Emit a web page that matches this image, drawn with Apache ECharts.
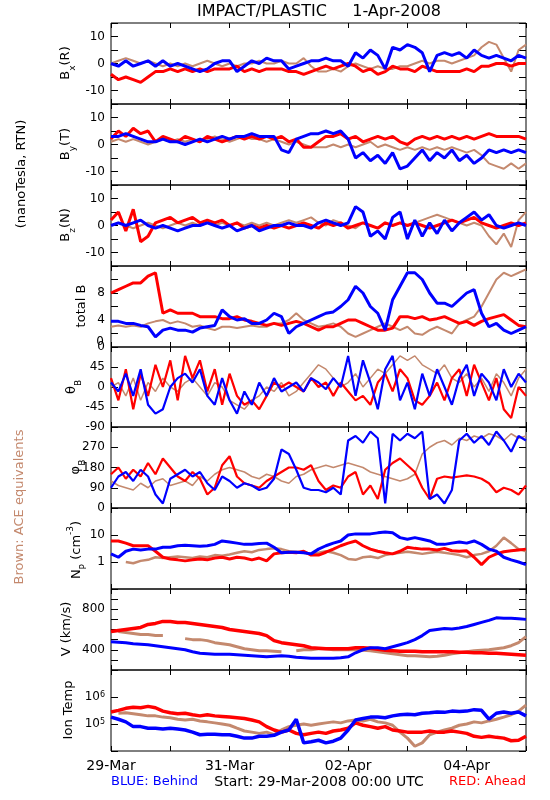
<!DOCTYPE html>
<html><head><meta charset="utf-8">
<script src="https://cdn.jsdelivr.net/npm/echarts@6/dist/echarts.min.js"></script>
<style>html,body{margin:0;padding:0;background:#fff}#c{width:550px;height:800px}</style>
</head><body><div id="c"></div>
<script>
// ---- time grid (hours after 29-Mar-2008 00:00 UTC) ----
const TIMES = [0,3,6,9,12,15,18,21,24,27,30,33,36,39,42,45,48,51,54,57,60,63,66,69,72,75,78,81,84,87,90,93,96,99,102,105,108,111,114,117,120,123,126,129,132,135,138,141,144,147,150,153,156,159,162,165,168];
const DATE_LABELS = {0:'29-Mar',48:'31-Mar',96:'02-Apr',144:'04-Apr'};

// ---- Bx (R) ----
const bxBlue = [0,-1,1,-1,0,1,-1,1,-1,0, -1,-2,-3,-2,0,1,1,-3,-1,1, 0,2,1,1,-2,-1,0,1,1,2, 1,1,-1,4,2,5,3,-2,6,5, 7,6,4,-3,3,4,3,4,2,5, 3,2,3,2,1,3,2];
const bxRed  = [-4,-6,-5,-6,-7,-5,-3,-3,-2,-3, -2,-3,-2,-3,-2,-2,-2,-1,-3,-2, -3,-2,-2,-2,-3,-3,-4,-3,-2,-1, -2,-1,0,-1,-3,-2,-4,-3,-1,-2, -2,-3,-1,-2,-3,-3,-3,-3,-2,-3, -1,-1,0,0,-1,0,0];
const bxAce  = [0,1,2,1,0,1,0,-1,0,-1, 0,-1,0,1,0,-1,0,-1,0,0, 1,0,0,1,0,0,2,-1,-3,-3, -2,-3,-1,0,-1,-2,-1,-2,-2,-1, -1,0,1,0,1,1,0,1,2,3, 6,8,7,2,-3,5,7];
// ---- By (T) ----
const byBlue = [3,3,4,3,2,1,1,2,1,1, 0,1,2,1,2,3,2,3,3,4, 3,3,3,-2,-3,2,3,4,4,5, 4,5,2,-5,-3,-6,-4,-7,-3,-9, -8,-5,-2,-6,-3,-5,-2,-6,-4,-7, -5,-2,-3,-2,-3,-2,-3];
const byRed  = [2,5,3,6,4,5,1,3,2,1, 3,2,1,3,2,1,2,3,2,3, 2,3,2,3,1,2,-1,-1,1,3, 3,4,2,3,1,2,3,2,3,1, 0,2,3,2,3,2,3,2,3,2, 3,4,3,3,3,3,2];
const byAce  = [1,2,1,2,1,0,1,2,1,2, 1,2,1,2,3,2,1,2,3,2, 2,1,2,1,0,1,0,-1,-1,-1, 0,-1,0,-1,0,1,-1,0,-1,-2, -1,-2,-1,-2,-1,-2,-1,-2,-3,-2, -4,-7,-8,-9,-7,-9,-7];
// ---- Bz (N) ----
const bzBlue = [0,1,0,1,2,0,-1,0,-1,-2, -1,0,0,1,0,-1,0,-2,-1,0, -2,-1,0,0,1,0,0,-1,1,2, 1,0,1,7,5,-4,-2,-5,3,5, -5,2,-4,1,-3,2,-2,1,3,5, 2,4,0,-1,0,1,0];
const bzRed  = [2,5,-2,6,-6,-4,1,2,3,1, 2,3,1,2,1,2,0,1,-1,0, -1,0,-1,0,-1,0,1,0,-1,1, 0,1,-1,0,1,0,-1,1,0,1, 0,1,0,-1,0,1,2,1,2,3, 1,0,-1,0,1,0,1];
const bzAce  = [0,1,0,-1,0,1,0,-1,0,1, 0,1,0,1,0,1,0,1,0,1, 0,1,0,1,2,1,2,3,1,0, 2,1,0,-1,1,0,-1,1,0,1, 0,1,2,3,4,3,2,1,0,1, 0,-4,-7,-3,-8,2,5];
// ---- total B ----
const btBlue = [3.8,3.8,3.5,3.5,3.2,3,1.5,2.5,2.8,2.5, 2.5,2.2,2.8,3,3.2,5.5,4.5,4,4.2,3.5, 3.5,4,5,4.5,2,3,3.5,4,4.5,5, 5.2,6,7,9,8,6,5,2.5,7,9, 11,11,10,8,6.5,6.5,6,7,8,8.5, 5,3,3.5,2.5,2,2.5,3];
const btRed  = [8,8.5,9,9.5,9.5,10.5,11,5,5.5,5, 5,5,4.5,4.5,4.5,4.2,4.2,4.5,4,3.8, 3.5,3.2,3.5,3.2,3.5,3.8,3.5,3,2.5,3, 3,3.5,4,4,3.5,3,2.5,2.5,2.8,4.5, 4.5,4.2,4.5,4,4.2,4.5,4,3.5,3.8,3.2, 3.8,4.2,4.5,4.8,4,3.2,3];
const btAce  = [3,3.2,3,3.2,3,3.5,3.8,4,3.5,3.8, 3.5,3,3.2,2.8,2.5,3,3,2.8,3,3.2, 3,3,3.5,3.5,4,5,4,3.5,3,3.2, 3.5,3,2,1.5,2,2.5,3,3.5,3,2.5, 3,2,1.8,2.5,3,2.5,2,3.5,4,4.5, 6,8,10,11,10.5,11,11.5];
// ---- theta_B ----
const thBlue = [10,-10,30,-20,40,-40,-60,-50,0,20, 30,10,40,-20,-40,20,-30,-60,-10,-40, 10,-20,20,-10,0,10,-10,20,10,-5, 20,0,70,-20,60,10,-50,40,70,-30, 10,-50,30,-20,40,0,-40,20,50,-20, 30,10,-30,40,0,30,10];
const thRed  = [20,-30,40,-50,30,-20,50,0,60,-30, 70,20,60,-10,40,-40,30,-20,-40,-30, -50,-20,10,0,10,0,-10,20,0,10, -20,10,-10,-30,-20,-40,10,30,-10,40, 20,-30,-40,-20,10,-30,20,40,-20,50, 10,-30,20,-50,-70,0,-20];
const thAce  = [0,10,-20,20,-30,10,-10,20,0,-10, 10,20,0,-20,10,0,-30,-40,-50,-30, -20,0,-10,10,-20,-10,10,30,50,40, 20,0,10,30,0,20,40,30,50,70, 60,70,50,40,30,50,20,10,30,0, 20,-10,30,10,-20,20,40];
// ---- phi_B ----
const phBlue = [90,140,160,120,170,140,60,20,130,150, 170,140,160,110,80,140,120,90,110,100, 80,90,130,260,240,170,90,80,80,70, 90,60,300,320,290,340,310,20,330,300, 330,310,340,40,60,20,80,300,330,290, 320,280,340,300,250,320,300];
const phRed  = [150,180,130,170,140,200,150,220,180,140, 120,160,130,60,90,190,230,140,110,100, 90,120,140,160,180,180,170,190,120,80, 100,90,140,160,60,100,40,170,200,220, 190,160,90,40,130,140,135,140,145,140, 130,110,70,90,80,60,100];
const phAce  = [120,100,90,80,110,90,120,130,100,110, 120,100,140,120,150,170,180,170,160,140, 130,150,140,120,110,140,150,170,180,190, 180,190,200,190,180,160,150,140,130,120, 130,150,240,270,290,300,280,310,300,320, 310,330,320,300,330,310,320];
// ---- Np (cm^-3) ----
const npBlue = [2,1.5,2.5,3,2.8,3,3,3.5,3.5,4, 4.2,4,3.8,4,4.5,6,5.5,5,4.5,4.5, 4.8,5,3.5,2.2,2.3,2.3,2.2,2,3,4, 5,6,10,11,11,11,12,13,12,8, 7,8,7,6,4.5,4.5,5,5.5,5,6, 4.5,3,2.5,1.5,1.2,1,0.8];
const npRed  = [6,6,5,4,4,4,2.5,1.5,1.3,1.2, 1.1,1.2,1.3,1.2,1.4,1.5,1.3,1.5,1.4,1.2, 1.4,1.1,2,2.2,2.3,2.2,2.5,1.8,1.8,2.3, 3,4,5,6,4,3,2.5,2.2,2,2.5, 3.5,3.2,3,3,2.8,3.2,2.6,2.5,2.6,1.5, 0.8,1.5,2,2.4,2.6,2.8,3];
const npAce  = [null,null,1.0,0.9,1.1,1.2,1.5,1.4,1.5,1.6, 1.5,1.4,1.6,1.5,1.8,1.7,1.9,2.2,2.5,2.3, 2.8,3,3.2,3,2.5,2.4,2.2,2,2.2,2.5, 2.2,1.8,1.3,1.2,1.5,1.6,1.4,1.8,2,2.2, 2.4,2.2,2,2.2,2.4,2.2,2,1.8,1.5,1.8, 2,2.5,4,8,5,3,2.5];
// ---- V (km/s) ----
const vBlue = [480,475,470,460,455,450,440,430,420,410, 400,380,365,360,355,355,355,350,345,340, 335,330,335,340,335,325,320,315,315,315, 315,320,330,370,400,420,420,410,430,450, 470,500,540,590,600,610,605,615,630,650, 670,690,715,710,710,705,700];
const vRed  = [580,590,600,610,620,650,660,680,680,670, 670,660,650,640,630,620,600,590,580,570, 560,540,490,470,460,450,440,420,415,410, 410,410,410,420,420,415,405,395,390,385, 385,385,380,380,380,380,380,375,375,370, 370,365,365,360,355,350,345];
const vAce  = [null,580,570,560,550,550,540,540,null,null, 510,500,500,490,470,460,450,430,410,400, 390,390,385,380,null,390,400,400,410,410, 400,400,400,400,395,390,380,370,360,350, 340,340,335,330,335,345,360,370,380,390, 395,400,410,420,440,470,530];
// ---- Ion Temp (K) ----
const tBlue = [1.8e5,1.5e5,1.2e5,8e4,8e4,7e4,7e4,6.5e4,7e4,6.5e4, 6e4,5e4,4e4,4.2e4,4.2e4,4e4,4e4,3.5e4,3e4,3e4, 3.5e4,3.5e4,3.8e4,5e4,6e4,1.5e5,2e4,2.2e4,2.5e4,2e4, 2.3e4,3e4,6e4,1.4e5,1.6e5,1.8e5,1.8e5,1.7e5,2e5,2.2e5, 2.3e5,2.2e5,2.5e5,2.6e5,2.8e5,2.7e5,3e5,2.9e5,3e5,3.4e5, 3.2e5,1.5e5,2.5e5,2.8e5,2.5e5,2.8e5,2e5];
const tRed  = [2.8e5,3.2e5,3.8e5,4.2e5,4e5,4.5e5,4e5,3e5,2.6e5,2.4e5, 2.5e5,2.2e5,2e5,2.2e5,2e5,1.9e5,1.8e5,1.7e5,1.6e5,1.4e5, 1.2e5,8e4,6e4,5e4,6e4,4.5e4,4e4,4.5e4,5e4,4.5e4, 5.5e4,6e4,7e4,1.1e5,9e4,8e4,7e4,8e4,6e4,5.5e4, 5e4,5e4,5e4,5.5e4,5e4,5e4,5.5e4,5e4,4.5e4,3.5e4, 3.2e4,3.5e4,3.2e4,3e4,2.4e4,2.5e4,3.5e4];
const tAce  = [null,2.5e5,2.6e5,2.4e5,2.2e5,2e5,2e5,1.8e5,1.7e5,1.5e5, 1.4e5,1.5e5,1.3e5,1.2e5,1.1e5,1e5,9e4,7e4,5.5e4,5e4, 4.5e4,5e4,4e4,6e4,8e4,9e4,1e5,9e4,1e5,1.1e5, 1.2e5,1.1e5,1.3e5,1.4e5,1.3e5,1.5e5,1.2e5,1.1e5,9e4,5e4, 3e4,1.5e4,2e4,4e4,5e4,6e4,7e4,9e4,1e5,1.2e5, 1.1e5,1.3e5,1.5e5,1.8e5,2.2e5,3e5,5e5];

// ---- tick labels ----
const bLabels = [-10,0,10];
const btLabels = [0,4,8];
const btZeroLabel = '0';
const thLabels = [-90,-45,0,45];
const phLabels = [0,90,180,270];
const npLabels = [1,10];
const vLabels = [400,800];
const tLabelExp = [5,6];

// ---- styling / layout ----
const FONT = 'DejaVu Sans';
const BLUE = '#0000ff', RED = '#ff0000', BROWN = '#c4896e';
const tops = [23,104,185,266,347,427,508,589,670];
const heights = [81,81,81,81,80,81,81,81,81];
const LEFT = 111, WIDTH = 415;

function linFmt(list){ return v => list.indexOf(Math.round(v*1000)/1000) >= 0 ? String(Math.round(v)) : ''; }
function near(v, t){ return Math.abs(v - t) < 1e-6 * Math.max(1, Math.abs(t)); }

const panels = [
  {y:{type:'value',min:-15,max:15,interval:5}, fmt:linFmt(bLabels), s:[bxAce,bxRed,bxBlue], w:[2,3,3]},
  {y:{type:'value',min:-15,max:15,interval:5}, fmt:linFmt(bLabels), s:[byAce,byRed,byBlue], w:[2,3,3]},
  {y:{type:'value',min:-15,max:15,interval:5}, fmt:linFmt(bLabels), s:[bzAce,bzRed,bzBlue], w:[2,3,3]},
  {y:{type:'value',min:0,max:12,interval:2}, fmt:linFmt(btLabels), s:[btAce,btRed,btBlue], w:[2,3,3]},
  {y:{type:'value',min:-90,max:90,interval:45}, fmt:linFmt(thLabels), s:[thAce,thRed,thBlue], w:[1.5,2.2,2.2]},
  {y:{type:'value',min:0,max:360,interval:90}, fmt:linFmt(phLabels), s:[phAce,phRed,phBlue], w:[1.5,2.2,2.2]},
  {y:{type:'log',min:0.1,max:100,logBase:10}, fmt:v => (npLabels.some(t=>near(v,t)) ? String(Math.round(v)) : ''), s:[npAce,npRed,npBlue], w:[2.5,3,3]},
  {y:{type:'value',min:200,max:1000,interval:100}, fmt:linFmt(vLabels), s:[vAce,vRed,vBlue], w:[3,3.5,3]},
  {y:{type:'log',min:1e4,max:1e7,logBase:10}, fmt:v => { const e = Math.round(Math.log10(v)); return (tLabelExp.indexOf(e)>=0 && near(v,Math.pow(10,e))) ? '{b|10}{sup|'+e+'}' : ''; }, s:[tAce,tRed,tBlue], w:[3,3.5,3.5], rich:true}
];

const grid=[], xAxis=[], yAxis=[], series=[];
const colors = [BROWN, RED, BLUE];
panels.forEach((p,i)=>{
  grid.push({left:LEFT, width:WIDTH, top:tops[i], height:heights[i], show:true, borderColor:'#000', borderWidth:1, backgroundColor:'transparent'});
  const xbase = {type:'value', gridIndex:i, min:0, max:168, interval:24,
    axisLine:{show:false, onZero:false}, splitLine:{show:false},
    axisTick:{show:true, inside:true, length:5, lineStyle:{color:'#000',width:1}}};
  xAxis.push(Object.assign({}, xbase, {position:'bottom',
    axisLabel:{show:i===8, fontFamily:FONT, fontSize:14, color:'#000', margin:8,
      formatter: v => DATE_LABELS[v] !== undefined ? DATE_LABELS[v] : ''}}));
  xAxis.push(Object.assign({}, xbase, {position:'top', axisLabel:{show:false}}));
  const lab = {show:true, fontFamily:FONT, fontSize:12, color:'#000', margin:6, formatter:p.fmt};
  if (p.rich) lab.rich = {
    b:{fontFamily:FONT, fontSize:12, color:'#000', lineHeight:12, verticalAlign:'bottom'},
    sup:{fontFamily:FONT, fontSize:8, color:'#000', lineHeight:8, verticalAlign:'top', padding:[0,0,8,0]}
  };
  const ybase = Object.assign({gridIndex:i, axisLine:{show:false, onZero:false}, splitLine:{show:false},
    axisTick:{show:true, inside:true, length:7, lineStyle:{color:'#000',width:1}}}, p.y);
  yAxis.push(Object.assign({}, ybase, {position:'left', axisLabel:lab}));
  yAxis.push(Object.assign({}, ybase, {position:'right', axisLabel:{show:false}}));
  p.s.forEach((arr,k)=>{
    series.push({type:'line', xAxisIndex:2*i, yAxisIndex:2*i, z:2+k,
      data: TIMES.map((t,j)=>[t, arr[j]]),
      showSymbol:false, symbol:'none', connectNulls:false, silent:true,
      lineStyle:{color:colors[k], width:p.w[k], join:'bevel'}, itemStyle:{color:colors[k]}});
  });
});

const RICH = {
  b:{fontSize:13, fontFamily:FONT, fill:'#000', color:'#000', lineHeight:22, verticalAlign:'middle'},
  s:{fontSize:9, fontFamily:FONT, fill:'#000', color:'#000', lineHeight:10, verticalAlign:'bottom'},
  p:{fontSize:9, fontFamily:FONT, fill:'#000', color:'#000', lineHeight:10, verticalAlign:'top'}
};
function vname(text, x, y){
  return {type:'text', x:x, y:y, rotation:Math.PI/2, z:100,
    style:{text:text, rich:RICH, fontFamily:FONT, fontSize:13, fill:'#000',
      textAlign:'center', textVerticalAlign:'middle', align:'center', verticalAlign:'middle'}};
}
function htext(text, x, y, size, color, align){
  return {type:'text', x:x, y:y, z:100,
    style:{text:text, fontFamily:FONT, fontSize:size, fill:color,
      textAlign:align, textVerticalAlign:'middle', align:align, verticalAlign:'middle'}};
}
const zeroLabel = htext(btZeroLabel, 104, 342, 12, '#000', 'right');
zeroLabel.zlevel = 1;
const graphic = [
  htext('IMPACT/PLASTIC     1-Apr-2008', 319, 12, 16, '#000', 'center'),
  vname('{b|B}{s|x}{b|(R)}', 66, 63),
  vname('{b|B}{s|y}{b|(T)}', 66, 144),
  vname('{b|B}{s|z}{b|(N)}', 66, 225),
  vname('{b|total B}', 82, 306),
  vname('{b|θ}{s|B}', 72, 387),
  vname('{b|φ}{s|B}', 76, 467),
  vname('{b|N}{s|P}{b| (cm}{p|-3}{b|)}', 77, 550),
  vname('{b|V (km/s)}', 67, 629),
  vname('{b|Ion Temp}', 69, 710),
  zeroLabel,
  {type:'text', x:22, y:174, rotation:Math.PI/2, z:100,
    style:{text:'(nanoTesla, RTN)', fontFamily:FONT, fontSize:13, fill:'#000',
      textAlign:'center', textVerticalAlign:'middle', align:'center', verticalAlign:'middle'}},
  {type:'text', x:20, y:507, rotation:Math.PI/2, z:100,
    style:{text:'Brown: ACE equivalents', fontFamily:FONT, fontSize:13, fill:BROWN,
      textAlign:'center', textVerticalAlign:'middle', align:'center', verticalAlign:'middle'}},
  htext('BLUE: Behind', 111, 782, 13, BLUE, 'left'),
  htext('Start: 29-Mar-2008 00:00 UTC', 319, 782, 14, '#000', 'center'),
  htext('RED: Ahead', 526, 782, 13, RED, 'right')
];

const chart = echarts.init(document.getElementById('c'), null, {renderer:'canvas'});
chart.setOption({animation:false, backgroundColor:'#fff', grid, xAxis, yAxis, series, graphic});
</script></body></html>
